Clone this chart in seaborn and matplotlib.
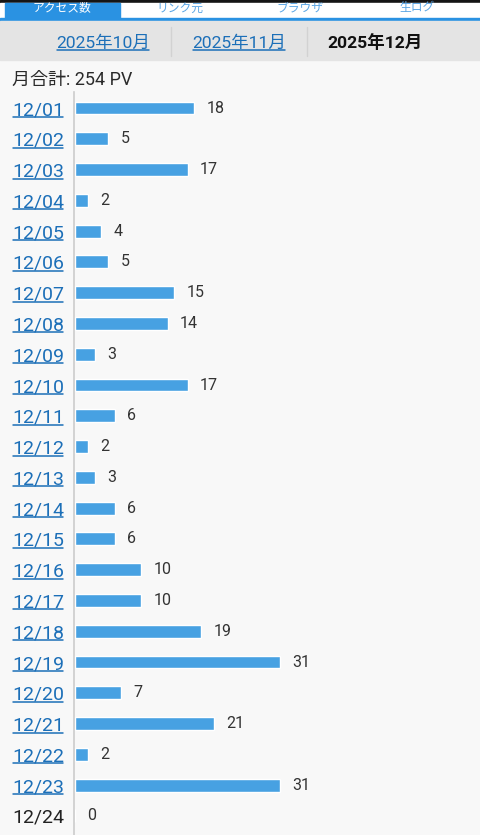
import matplotlib
matplotlib.use("Agg")
import matplotlib.pyplot as plt
import matplotlib.transforms as mtransforms
from matplotlib.lines import Line2D
from matplotlib.patches import Rectangle
import seaborn as sns

sns.set_theme(style="white")
plt.rcParams["font.family"] = ["Roboto", "Noto Sans CJK JP", "DejaVu Sans"]

# data
dates = ["12/01", "12/02", "12/03", "12/04", "12/05", "12/06", "12/07", "12/08",
         "12/09", "12/10", "12/11", "12/12", "12/13", "12/14", "12/15", "12/16",
         "12/17", "12/18", "12/19", "12/20", "12/21", "12/22", "12/23", "12/24"]
views = [18, 5, 17, 2, 4, 5, 15, 14, 3, 17, 6, 2, 3, 6, 6, 10,
         10, 19, 31, 7, 21, 2, 31, 0]
tabs = ["アクセス数", "リンク元", "ブラウザ", "生ログ"]
months = ["2025年10月", "2025年11月", "2025年12月"]
total_label = "月合計: 254 PV"

BAR = "#47a1e2"
LINK = "#1c6fb8"
W, H = 480, 835

fig = plt.figure(figsize=(W / 100, H / 100), dpi=100)
fig.patch.set_facecolor("#f8f8f8")

# overlay in pixel coords for the page chrome
bg = fig.add_axes([0, 0, 1, 1])
bg.set_xlim(0, W)
bg.set_ylim(H, 0)
bg.axis("off")
bg.add_patch(Rectangle((0, 0), W, 3, color="#151515"))
bg.add_patch(Rectangle((0, 3), W, 15, color="white"))
bg.add_patch(Rectangle((5, 3), 115, 15, color="#2a92e2"))
bg.add_patch(Rectangle((0, 18), W, 3, color="#2a92e2"))
bg.add_patch(Rectangle((0, 21), W, 39, color="#e4e4e4"))
for sx in (171, 307):
    bg.plot([sx, sx], [27, 56], color="#d2d2d2", lw=1)

tab_x = [62, 180, 300, 417]
for i, (name, tx) in enumerate(zip(tabs, tab_x)):
    bg.text(tx, 8, name, ha="center", va="center", fontsize=8.5,
            color="white" if i == 0 else "#5aa5e4")

# (text, gap in px between baseline and underline)
underline = []
month_x = [103, 239, 375]
for i, (m, mx) in enumerate(zip(months, month_x)):
    if i < 2:
        t = bg.text(mx, 48, m, ha="center", va="baseline", fontsize=12.6, color=LINK)
        underline.append((t, 1.5))
    else:
        bg.text(mx, 48, m, ha="center", va="baseline", fontsize=12.6,
                color="#111111", fontweight="bold")

bg.text(12, 80, total_label, ha="left", va="center", fontsize=13, color="#2a2a2a")

# bar chart
ax = fig.add_axes([74 / W, 0, (W - 74) / W, (H - 92) / H])
ax.set_facecolor("none")
sns.barplot(x=views, y=dates, orient="h", color=BAR, width=0.42,
            saturation=1, ax=ax)
ax.set_xlim(-0.15, (W - 74) / 6.62 - 0.15)
ax.set_ylim(23.62, -0.52)
for c in ax.containers:
    labels = ax.bar_label(c, fmt="%d", padding=9, fontsize=11.5, color="#333333")
    for lb in labels:
        lb.set_transform(mtransforms.offset_copy(lb.get_transform(), fig=fig,
                                                 y=-1, units="dots"))
ax.set_xticks([])
ax.set_yticks([])
ax.set_xlabel("")
ax.set_ylabel("")
for s in ("top", "right", "bottom"):
    ax.spines[s].set_visible(False)
ax.spines["left"].set_color("#cccccc")
ax.spines["left"].set_linewidth(1.2)

trans = mtransforms.blended_transform_factory(bg.transData, ax.transData)
trans = mtransforms.offset_copy(trans, fig=fig, y=-7, units="dots")
for i, d in enumerate(dates):
    is_link = d != "12/24"
    t = bg.text(12, i, d, transform=trans, ha="left", va="baseline",
                fontsize=14, color=LINK if is_link else "#222222")
    if is_link:
        underline.append((t, 2.0))

fig.canvas.draw()
renderer = fig.canvas.get_renderer()
for t, gap in underline:
    bb = t.get_window_extent(renderer)
    base = t.get_transform().transform(t.get_position())[1]
    fig.add_artist(Line2D([bb.x0 + 1, bb.x1 - 1], [base - gap, base - gap],
                          transform=None, color=t.get_color(), lw=1.1))

fig.savefig("out.png", dpi=100)
